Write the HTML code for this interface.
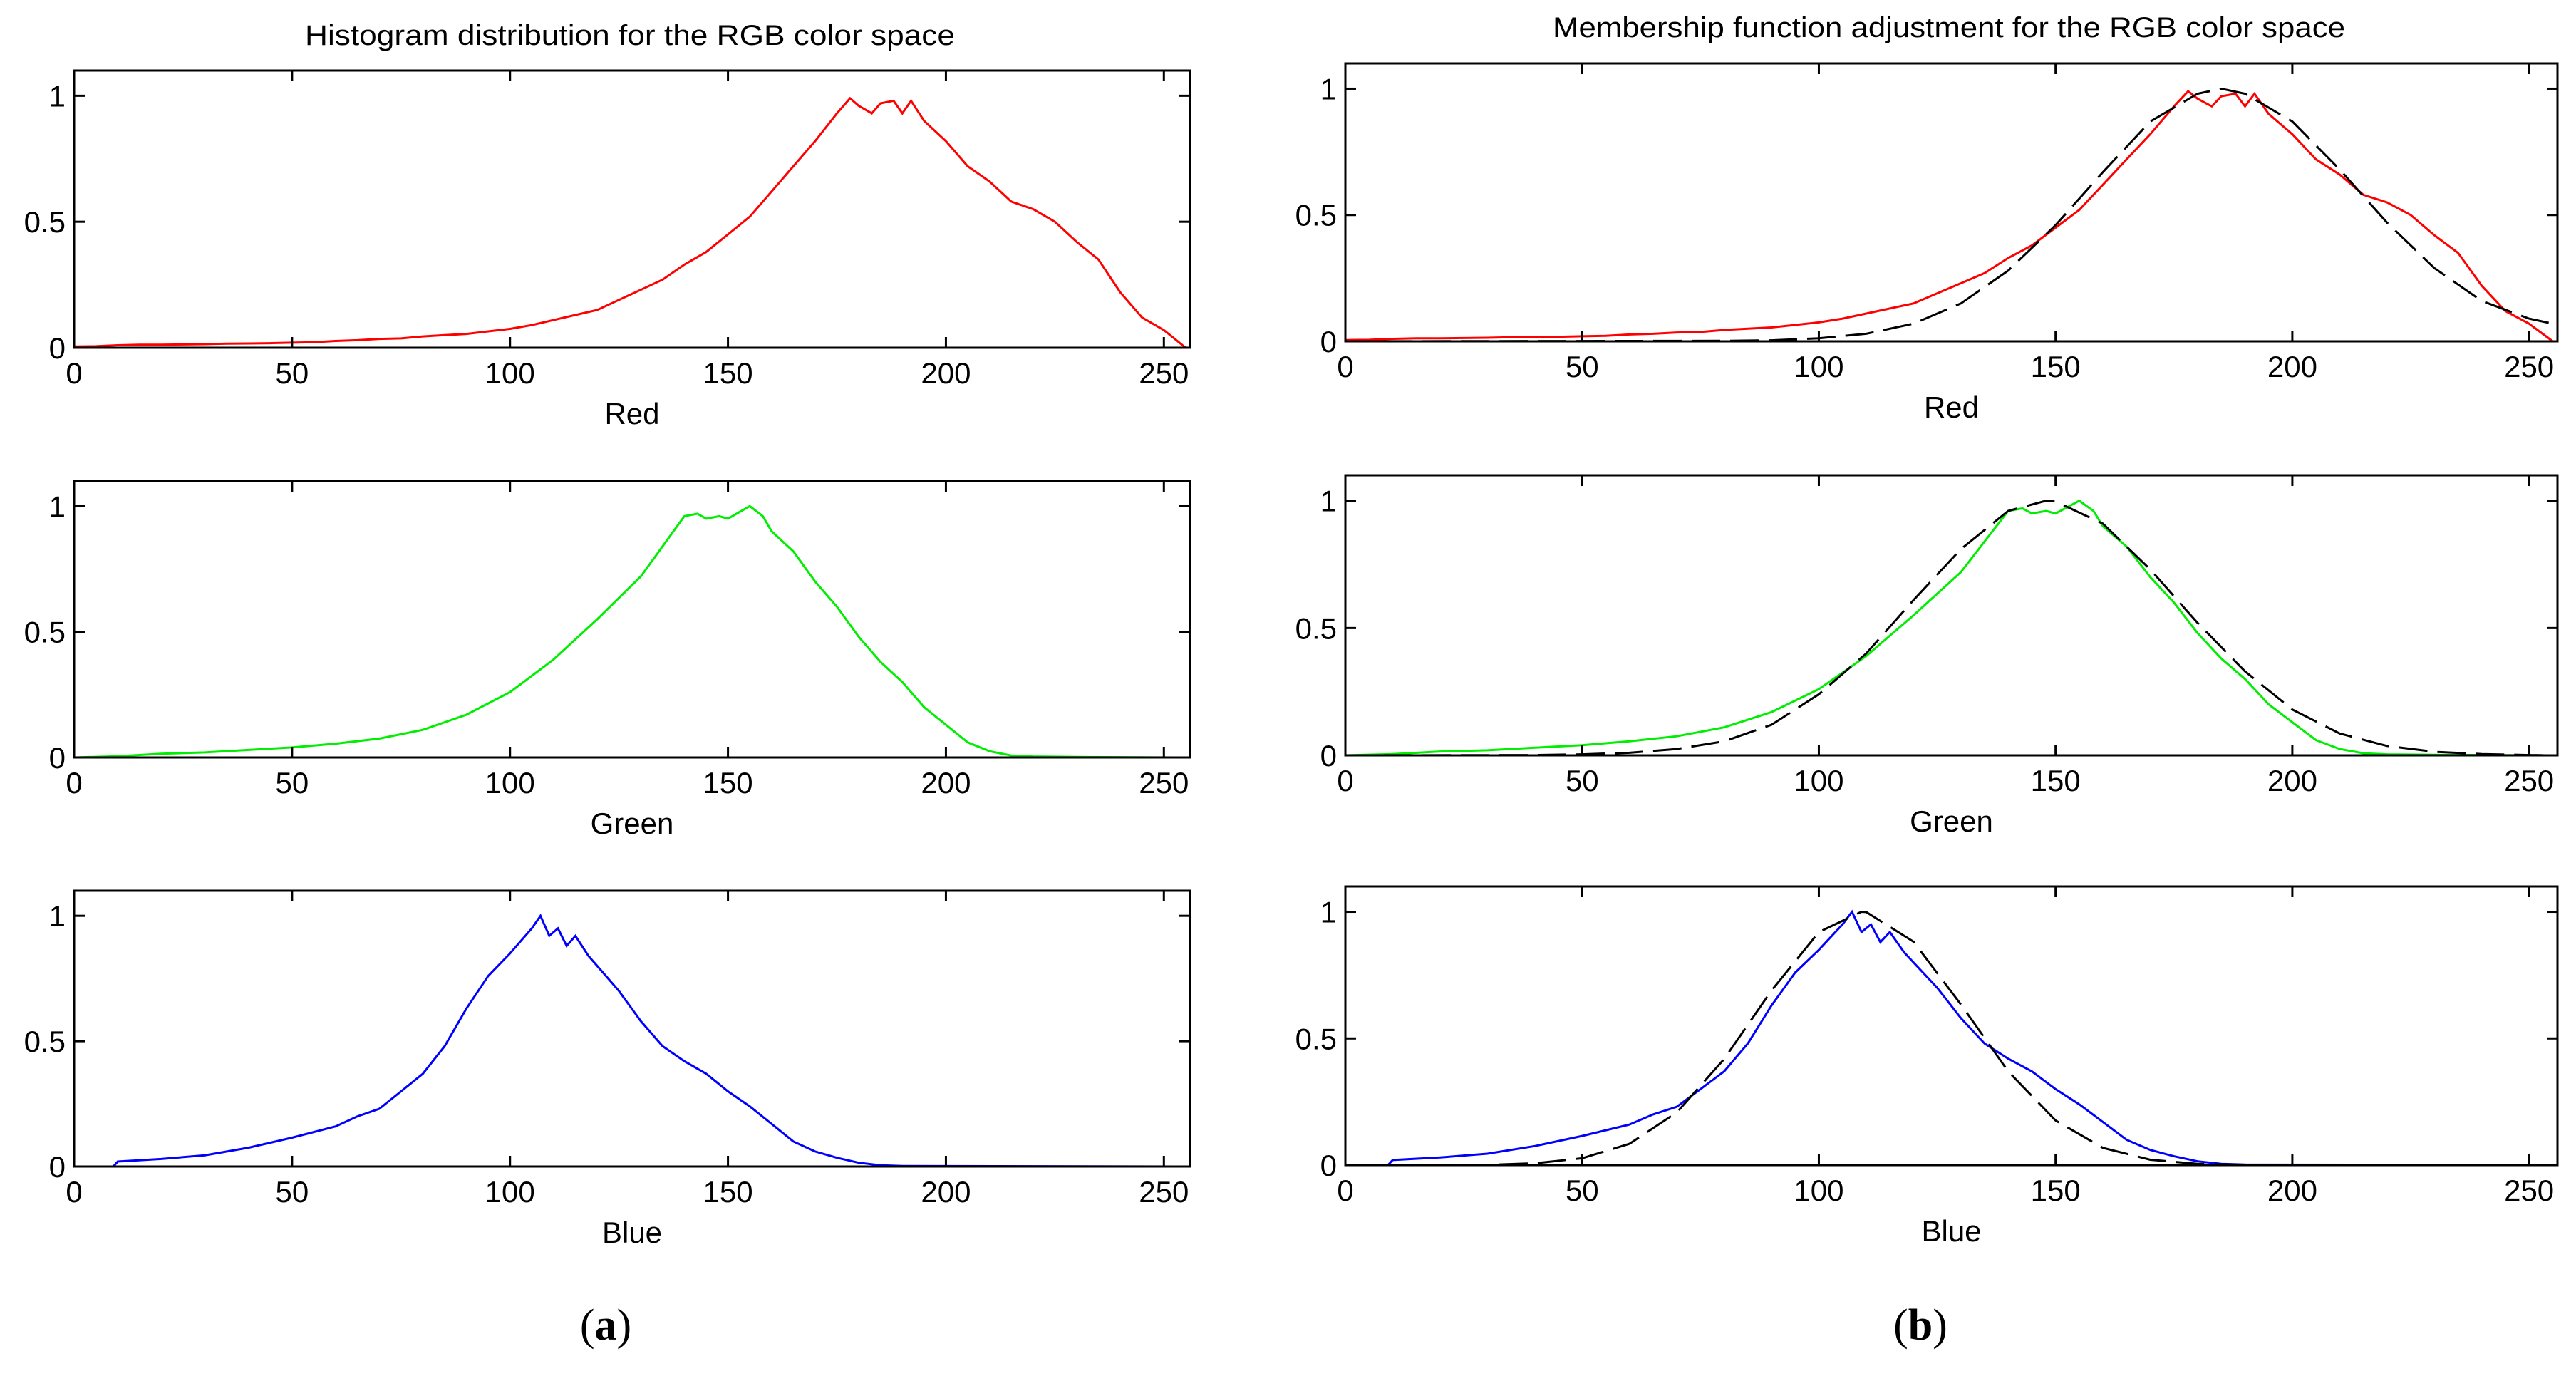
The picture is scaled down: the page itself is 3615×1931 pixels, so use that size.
<!DOCTYPE html>
<html><head><meta charset="utf-8">
<style>
html,body{margin:0;padding:0;background:#fff;}
svg{display:block;}
text{font-family:"Liberation Sans",sans-serif;fill:#000;}
</style></head>
<body>
<svg id="fig" width="3615" height="1931" viewBox="0 0 3615 1931" xmlns="http://www.w3.org/2000/svg"></svg>
<script>
// ---- data ----
const xTicks = [0, 50, 100, 150, 200, 250];
const yTicks = [0, 0.5, 1];
const yTickLabels = ["0", "0.5", "1"];
const channelNames = ["Red", "Green", "Blue"];

const redBins = [0,5,10,15,20,25,30,35,40,45,50,55,60,65,70,75,80,85,90,95,100,105,110,115,120,125,130,135,140,145,150,155,160,165,170,175,178,180,183,185,188,190,192,195,200,205,210,215,220,225,230,235,240,245,250,255];
const redValues = [0.005,0.006,0.01,0.012,0.012,0.013,0.014,0.016,0.017,0.018,0.02,0.022,0.027,0.03,0.035,0.037,0.045,0.05,0.055,0.065,0.075,0.09,0.11,0.13,0.15,0.19,0.23,0.27,0.33,0.38,0.45,0.52,0.62,0.72,0.82,0.93,0.99,0.96,0.93,0.97,0.98,0.93,0.98,0.90,0.82,0.72,0.66,0.58,0.55,0.50,0.42,0.35,0.22,0.12,0.07,0.0];

const greenBins = [0,10,20,30,40,50,60,70,80,90,100,110,120,130,135,140,143,145,148,150,153,155,158,160,165,170,175,180,185,190,195,200,205,210,215,220,230,255];
const greenValues = [0,0.005,0.015,0.02,0.03,0.04,0.055,0.075,0.11,0.17,0.26,0.39,0.55,0.72,0.84,0.96,0.97,0.95,0.96,0.95,0.98,1.0,0.96,0.9,0.82,0.7,0.6,0.48,0.38,0.3,0.2,0.13,0.06,0.025,0.008,0.004,0.002,0];

const blueBins = [0,9,10,20,30,40,50,60,65,70,75,80,85,90,95,100,103,105,107,109,111,113,115,118,120,125,130,135,140,145,150,155,160,165,170,175,180,185,190,255];
const blueValues = [0,0,0.02,0.03,0.045,0.075,0.115,0.16,0.2,0.23,0.3,0.37,0.48,0.63,0.76,0.85,0.91,0.95,1.0,0.92,0.95,0.88,0.92,0.84,0.8,0.7,0.58,0.48,0.42,0.37,0.3,0.24,0.17,0.1,0.06,0.035,0.015,0.005,0.002,0];

const redFitBins = [0,80,90,100,110,120,130,140,150,160,170,180,185,190,200,210,220,230,240,250,255];
const redFitValues = [0,0.002,0.004,0.012,0.03,0.07,0.15,0.28,0.46,0.67,0.87,0.98,1,0.98,0.87,0.68,0.47,0.29,0.16,0.09,0.07];

const greenFitBins = [0,40,50,60,70,80,90,100,110,120,130,140,148,150,160,170,180,190,200,210,220,230,240,250,255];
const greenFitValues = [0,0.001,0.004,0.01,0.025,0.055,0.12,0.24,0.4,0.61,0.81,0.96,1,0.997,0.91,0.73,0.52,0.33,0.18,0.086,0.037,0.014,0.005,0.001,0];

const blueFitBins = [0,30,40,50,60,70,80,90,100,109,110,120,130,140,150,160,170,180,190,200,255];
const blueFitValues = [0,0.001,0.007,0.027,0.084,0.208,0.419,0.689,0.92,1,0.999,0.882,0.634,0.37,0.176,0.068,0.021,0.005,0.001,0,0];

// ---- layout ----
const NS = "http://www.w3.org/2000/svg";
const svg = document.getElementById("fig");
function el(tag, attrs, parent) {
  const e = document.createElementNS(NS, tag);
  for (const k in attrs) e.setAttribute(k, attrs[k]);
  (parent || svg).appendChild(e);
  return e;
}
const leftCol = {x0: 104, x1: 1670, tops: [99, 675, 1250], bots: [488, 1063, 1637]};
const rightCol = {x0: 1888, x1: 3589, tops: [89, 667, 1244], bots: [479, 1060, 1635]};
const histColors = ["#ff0000", "#00ee00", "#0000ff"];
const histBins = [redBins, greenBins, blueBins];
const histVals = [redValues, greenValues, blueValues];
const fitBins = [redFitBins, greenFitBins, blueFitBins];
const fitVals = [redFitValues, greenFitValues, blueFitValues];
const XMAX = 256, YMAX = 1.1;

function drawPanel(col, row, withFit, side) {
  const x0 = col.x0, x1 = col.x1, top = col.tops[row], bot = col.bots[row];
  const sx = v => x0 + (v / XMAX) * (x1 - x0);
  const sy = v => bot - (v / YMAX) * (bot - top);
  const g = el("g", {});
  
  
  // series
  const pts = histBins[row].map((b, i) => sx(b).toFixed(1) + "," + sy(histVals[row][i]).toFixed(1)).join(" ");
  const line = el("polyline", {points: pts, fill: "none", stroke: histColors[row], "stroke-width": 3}, g);
  
  
  if (withFit) {
    const fp = fitBins[row].map((b, i) => sx(b).toFixed(1) + "," + sy(fitVals[row][i]).toFixed(1)).join(" ");
    const fl = el("polyline", {points: fp, fill: "none", stroke: "#000", "stroke-width": 3, "stroke-dasharray": "40,14"}, g);
    
    
  }
  // box
  const box = el("rect", {x: x0, y: top, width: x1 - x0, height: bot - top, fill: "none", stroke: "#000", "stroke-width": 3}, g);
  
  
  // x ticks
  xTicks.forEach(t => {
    const x = sx(t);
    el("line", {x1: x, x2: x, y1: bot, y2: bot - 15, stroke: "#000", "stroke-width": 3}, g);
    el("line", {x1: x, x2: x, y1: top, y2: top + 15, stroke: "#000", "stroke-width": 3}, g);
    const tx = el("text", {x: x, y: bot + 50, "font-size": 42, "text-anchor": "middle"}, g);
    tx.textContent = String(t);
    
    
  });
  yTicks.forEach((t, i) => {
    const y = sy(t);
    el("line", {x1: x0, x2: x0 + 15, y1: y, y2: y, stroke: "#000", "stroke-width": 3}, g);
    el("line", {x1: x1, x2: x1 - 15, y1: y, y2: y, stroke: "#000", "stroke-width": 3}, g);
    const ty = el("text", {x: x0 - 12, y: y + 15, "font-size": 42, "text-anchor": "end"}, g);
    ty.textContent = yTickLabels[i];
    
    
  });
  const xl = el("text", {x: (x0 + x1) / 2, y: bot + 107, "font-size": 42, "text-anchor": "middle"}, g);
  xl.textContent = channelNames[row];
  
  
}
for (let r = 0; r < 3; r++) {
  drawPanel(leftCol, r, false, "left");
  drawPanel(rightCol, r, true, "right");
}
const t1 = el("text", {x: 884, y: 63, "font-size": 40, "text-anchor": "middle", textLength: 912, lengthAdjust: "spacingAndGlyphs"});
t1.textContent = "Histogram distribution for the RGB color space";


const t2 = el("text", {x: 2735, y: 52, "font-size": 40, "text-anchor": "middle", textLength: 1112, lengthAdjust: "spacingAndGlyphs"});
t2.textContent = "Membership function adjustment for the RGB color space";


const ca = el("text", {x: 850, y: 1880, "font-size": 62, "text-anchor": "middle", style: "font-family:'Liberation Serif',serif"});
ca.innerHTML = '(<tspan font-weight="bold">a</tspan>)';


const cb = el("text", {x: 2695, y: 1880, "font-size": 62, "text-anchor": "middle", style: "font-family:'Liberation Serif',serif"});
cb.innerHTML = '(<tspan font-weight="bold">b</tspan>)';


</script>
</body></html>
